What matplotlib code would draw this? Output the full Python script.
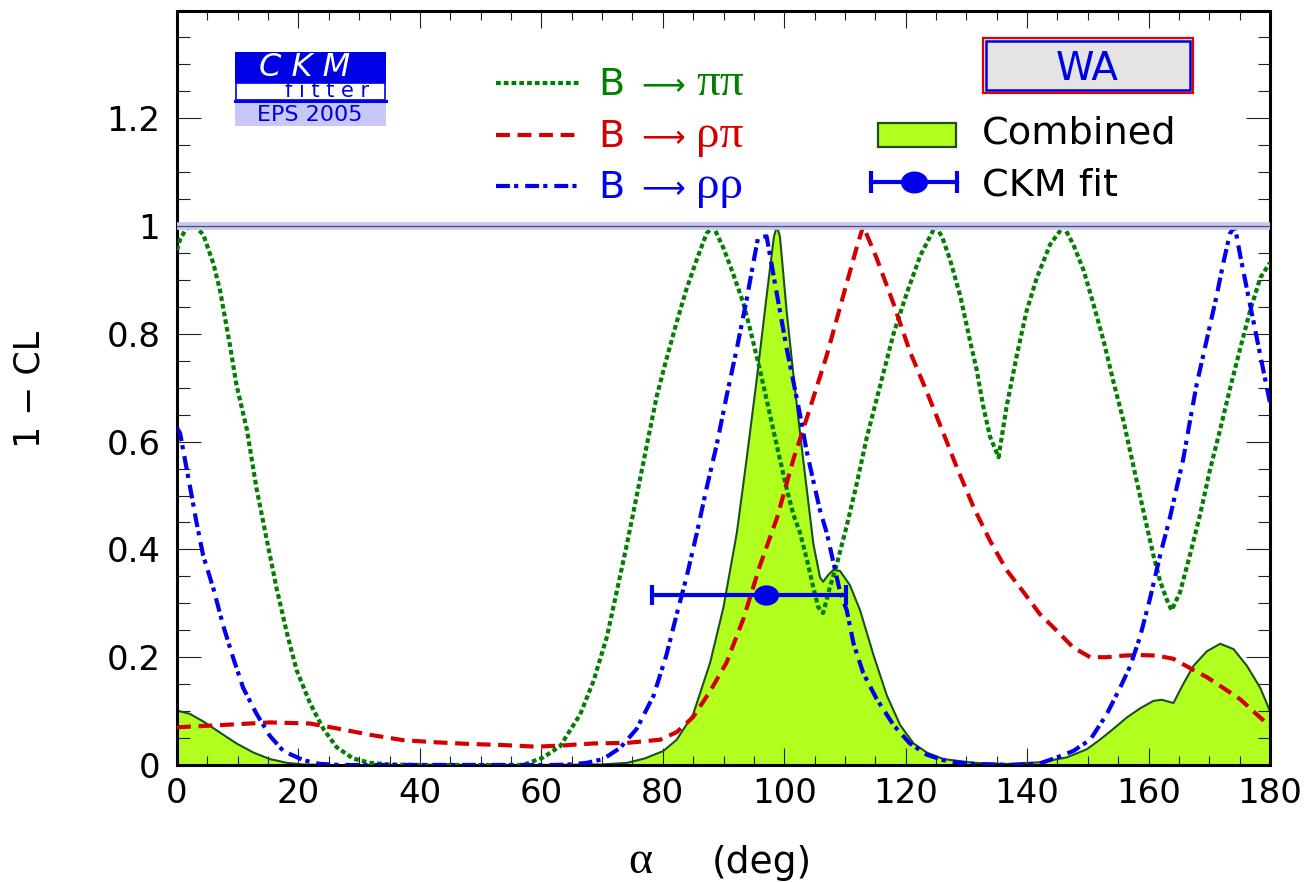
import matplotlib.pyplot as plt
from matplotlib.patches import Rectangle
from matplotlib.lines import Line2D
from matplotlib.path import Path
from matplotlib.ticker import MultipleLocator, FuncFormatter

# 1-CL scans versus alpha (deg)
pipi_alpha = [0, 0.5, 1.5, 2.8, 4.3, 6.0, 7.1, 8.7, 9.8, 11.5, 13.1, 14.8, 16.4, 18.1, 19.7,
              21.9, 24.1, 26.3, 29.0, 31.8, 35, 40, 50, 57, 60.3, 63.1, 66.4, 68.6, 70.8, 72.4,
              74.1, 75.7, 77.4, 79.0, 80.6, 82.3, 83.9, 85.6, 87.2, 88.3, 90.0, 91.6, 93.3, 94.4,
              96.0, 97.1, 98.2, 99.3, 100.4, 101.5, 102.6, 103.7, 104.8, 105.6, 106.4, 107.5,
              108.6, 110.3, 111.9, 113.6, 115.8, 118.0, 120.2, 122.4, 124.9, 126.0, 127.3, 129.0,
              130.6, 131.7, 132.8, 133.9, 135.3, 136.6, 138.3, 139.9, 141.6, 143.8, 146.0, 147.6,
              149.3, 150.9, 152.6, 154.2, 155.9, 157.5, 158.6, 159.7, 160.8, 161.9, 163.0, 163.8,
              165.2, 166.8, 168.5, 170.1, 171.8, 173.4, 175.1, 176.7, 178.4, 180]
pipi_cl = [0.955, 0.975, 0.995, 1.0, 0.985, 0.93, 0.88, 0.78, 0.705, 0.623, 0.513, 0.417, 0.328,
           0.245, 0.176, 0.115, 0.067, 0.033, 0.012, 0.004, 0.001, 0, 0, 0, 0.014, 0.035, 0.094,
           0.156, 0.238, 0.321, 0.410, 0.499, 0.595, 0.684, 0.753, 0.822, 0.883, 0.938, 0.986,
           1.0, 0.959, 0.911, 0.856, 0.808, 0.733, 0.678, 0.622, 0.567, 0.513, 0.465, 0.431,
           0.383, 0.329, 0.293, 0.282, 0.329, 0.370, 0.444, 0.520, 0.608, 0.704, 0.800, 0.876,
           0.945, 1.0, 0.98, 0.938, 0.870, 0.787, 0.733, 0.664, 0.609, 0.571, 0.664, 0.760,
           0.842, 0.904, 0.966, 1.0, 0.966, 0.918, 0.856, 0.787, 0.712, 0.637, 0.555, 0.499,
           0.444, 0.389, 0.341, 0.307, 0.287, 0.321, 0.389, 0.465, 0.547, 0.623, 0.698, 0.773,
           0.842, 0.904, 0.932]

rhopi_alpha = [0, 7.1, 15.3, 21.9, 26.3, 31.8, 37.3, 42.8, 48.3, 53.7, 59.2, 63.1, 68.6, 74.1,
               79.6, 82.3, 85.0, 87.8, 90.5, 93.3, 96.0, 98.8, 101.5, 104.3, 107.0, 109.7, 111.9,
               113.0, 115.2, 118.0, 120.7, 123.5, 126.2, 128.4, 131.2, 133.9, 136.6, 139.4, 142.1,
               144.9, 147.6, 150.4, 153.1, 155.9, 158.6, 161.4, 164.1, 166.8, 169.6, 172.3, 175.1,
               177.8, 180]
rhopi_cl = [0.070, 0.074, 0.079, 0.077, 0.068, 0.056, 0.046, 0.042, 0.039, 0.037, 0.034, 0.036,
            0.040, 0.041, 0.047, 0.061, 0.089, 0.137, 0.190, 0.272, 0.370, 0.458, 0.567, 0.664,
            0.760, 0.870, 0.959, 1.0, 0.941, 0.856, 0.767, 0.692, 0.616, 0.553, 0.478, 0.416,
            0.362, 0.321, 0.280, 0.249, 0.218, 0.200, 0.200, 0.203, 0.204, 0.203, 0.197, 0.180,
            0.163, 0.143, 0.122, 0.094, 0.072]

rhorho_alpha = [0, 0.5, 1.3, 2.1, 3.2, 4.3, 6.0, 7.6, 9.3, 10.9, 13.1, 15.3, 17.5, 20.8, 23.5,
                27, 40, 55, 62, 64.7, 67.5, 70.2, 73.0, 75.7, 78.5, 80.6, 82.3, 83.9, 85.6, 87.2,
                88.9, 90.5, 92.2, 93.8, 94.9, 95.7, 97.1, 98.2, 99.3, 100.4, 101.5, 102.6, 103.7,
                104.8, 105.9, 107.0, 108.1, 109.2, 110.3, 111.4, 113.0, 115.2, 118.0, 120.7,
                123.5, 126.2, 129.0, 133, 138, 142.1, 144.9, 147.6, 150.4, 153.1, 155.3, 157.0,
                158.6, 160.2, 161.9, 163.5, 164.6, 165.7, 166.8, 167.9, 169.0, 170.1, 171.2,
                172.3, 173.4, 174.2, 175.1, 176.2, 177.3, 178.4, 180]
rhorho_cl = [0.625, 0.616, 0.567, 0.519, 0.451, 0.389, 0.327, 0.259, 0.197, 0.143, 0.095, 0.054,
             0.026, 0.009, 0.002, 0, 0, 0, 0, 0.001, 0.004, 0.011, 0.032, 0.067, 0.129, 0.204,
             0.280, 0.348, 0.430, 0.513, 0.595, 0.684, 0.773, 0.863, 0.931, 0.979, 0.981, 0.911,
             0.842, 0.773, 0.712, 0.650, 0.582, 0.527, 0.472, 0.431, 0.376, 0.321, 0.287, 0.226,
             0.171, 0.123, 0.074, 0.040, 0.019, 0.009, 0.004, 0.001, 0, 0.003, 0.014, 0.026,
             0.047, 0.094, 0.143, 0.184, 0.238, 0.307, 0.389, 0.458, 0.513, 0.567, 0.637, 0.705,
             0.760, 0.815, 0.870, 0.931, 0.986, 1.0, 0.945, 0.883, 0.822, 0.760, 0.672]

comb_alpha = [0, 2.1, 4.3, 7.1, 9.8, 12.6, 15.3, 18.1, 20.8, 25, 40, 60, 70, 74.1, 77, 80.1,
              82.3, 85.0, 87.8, 90.0, 92.2, 93.8, 95.5, 97.1, 98.3, 98.8, 99.3, 100.4, 101.5,
              102.6, 103.7, 104.8, 105.9, 106.4, 107.2, 108.1, 109.2, 110.8, 112.5, 114.7, 116.9,
              119.1, 121.3, 123.5, 126.2, 131.2, 136.6, 142.1, 146.5, 149.8, 152.0, 154.2, 156.4,
              158.6, 160.8, 162.2, 164.1, 165.7, 167.4, 169.6, 171.8, 174.0, 176.2, 178.4, 180]
comb_cl = [0.101, 0.095, 0.081, 0.060, 0.040, 0.023, 0.011, 0.004, 0.001, 0, 0, 0, 0.001, 0.004,
           0.012, 0.026, 0.047, 0.094, 0.190, 0.293, 0.431, 0.567, 0.718, 0.870, 0.98, 1.0,
           0.98, 0.842, 0.725, 0.616, 0.513, 0.410, 0.348, 0.340, 0.352, 0.362, 0.360, 0.334,
           0.287, 0.204, 0.129, 0.074, 0.040, 0.023, 0.011, 0.004, 0.002, 0.005, 0.014, 0.029,
           0.047, 0.067, 0.088, 0.105, 0.119, 0.121, 0.115, 0.150, 0.184, 0.211, 0.225, 0.215,
           0.184, 0.143, 0.100]

# global fit: central value and interval, drawn at a fixed height
fit_alpha = 97.0
fit_lo, fit_hi = 78.2, 110.2
fit_y = 0.315

GREEN = '#007f00'
RED = '#d40000'
BLUE = '#0000ee'
FILL = '#b0ff1e'
EDGE = '#1b4f1b'
LOGO = '#0000e6'

plt.rcParams['font.family'] = ['DejaVu Sans']
plt.rcParams['lines.scale_dashes'] = False
SERIF = ['Liberation Serif', 'DejaVu Serif']

# slightly wide dot, as ROOT draws it on this canvas
_c = Path.unit_circle()
OVAL = Path(_c.vertices * [1.25, 1.0], _c.codes)

W, H = 1306, 883
fig = plt.figure(figsize=(W / 100, H / 100), dpi=100)
L, R, B, T = 177, 1270, 765, 10.5
ax = fig.add_axes([L / W, 1 - B / H, (R - L) / W, (B - T) / H])


def fx(px):
    return px / W


def fy(py):
    return 1 - py / H


def box(x0, y0, x1, y1, **kw):
    fig.add_artist(Rectangle((fx(x0), fy(y1)), (x1 - x0) / W, (y1 - y0) / H,
                             transform=fig.transFigure, **kw))


def hline(x0, x1, y, **kw):
    fig.add_artist(Line2D([fx(x0), fx(x1)], [fy(y), fy(y)], transform=fig.transFigure, **kw))


# curves
ax.fill_between(comb_alpha, comb_cl, 0, color=FILL, lw=0, zorder=1)
ax.plot(comb_alpha, comb_cl, color=EDGE, lw=1.5, zorder=2)
ax.plot(pipi_alpha, pipi_cl, color=GREEN, lw=3, dashes=(3.4, 2.2), zorder=3)
ax.plot(rhopi_alpha, rhopi_cl, color=RED, lw=3, dashes=(10, 5.5), zorder=3)
ax.plot(rhorho_alpha, rhorho_cl, color=BLUE, lw=3, dashes=(10, 3, 3, 5), zorder=3)

ax.errorbar([fit_alpha], [fit_y], xerr=[[fit_alpha - fit_lo], [fit_hi - fit_alpha]],
            fmt='none', ecolor=BLUE, elinewidth=3, capsize=7, capthick=3, zorder=4)
ax.plot([fit_alpha], [fit_y], ls='none', marker=OVAL, ms=17, color=BLUE, zorder=4)

ax.axhline(1.0, color='#c8c8f5', lw=5.5, zorder=5)
ax.axhline(1.0, color='#505068', lw=0.9, zorder=6)

ax.set_xlim(0, 180)
ax.set_ylim(0, 1.4)
ax.xaxis.set_major_locator(MultipleLocator(20))
ax.xaxis.set_minor_locator(MultipleLocator(5))
ax.yaxis.set_minor_locator(MultipleLocator(0.05))
ax.set_yticks([0, 0.2, 0.4, 0.6, 0.8, 1.0, 1.2])
ax.yaxis.set_major_formatter(FuncFormatter(lambda v, p: '%g' % round(v, 2)))
ax.tick_params(which='both', direction='in', top=True, right=True, color='#222222', width=0.8)
ax.tick_params(axis='x', which='major', length=12.5, labelsize=24.5, pad=8.5)
ax.tick_params(axis='x', which='minor', length=6.5)
ax.tick_params(axis='y', which='major', length=17, labelsize=24.5, pad=12)
ax.tick_params(axis='y', which='minor', length=9)
for s in ax.spines.values():
    s.set_linewidth(2.2)

fig.text(fx(29), fy(390), '1 \u2212 CL', rotation=90, ha='center', va='center', fontsize=25)
fig.text(fx(640), fy(873), '\u03b1', family=SERIF, ha='center', va='baseline', fontsize=33)
fig.text(fx(712), fy(873), '(deg)', ha='left', va='baseline', fontsize=27)

# channel legend
rows = [(83, GREEN, dict(dashes=(3.4, 2.2)), '\u03c0\u03c0'),
        (135, RED, dict(dashes=(10, 5.5)), '\u03c1\u03c0'),
        (186, BLUE, dict(dashes=(10, 3, 3, 5)), '\u03c1\u03c1')]
for y, c, st, final in rows:
    hline(496, 579, y, color=c, lw=3, **st)
    fig.text(fx(598), fy(y + 12), 'B', color=c, fontsize=27.5, va='baseline')
    fig.text(fx(663), fy(y + 12), '\u27f6', color=c, fontsize=22, ha='center', va='baseline')
    fig.text(fx(696), fy(y + 12), final, color=c, family=SERIF, fontsize=34, va='baseline')

# WA box
box(983, 38, 1193, 93, facecolor='#e4e4e4', edgecolor='#e00000', lw=1.6)
box(986, 41, 1190, 90, facecolor='none', edgecolor=LOGO, lw=1.8)
fig.text(fx(1087), fy(80), 'WA', color=LOGO, fontsize=28, ha='center', va='baseline')

# fill / fit legend
box(878, 123, 956, 147, facecolor=FILL, edgecolor=EDGE, lw=1.6)
fig.text(fx(982), fy(144), 'Combined', fontsize=27.5, va='baseline')
hline(871, 957, 182, color=BLUE, lw=3)
fig.add_artist(Line2D([fx(871), fx(957)], [fy(182)] * 2, transform=fig.transFigure,
                      ls='none', marker='|', ms=16, mew=3, color=BLUE))
fig.add_artist(Line2D([fx(914)], [fy(182)], transform=fig.transFigure,
                      ls='none', marker=OVAL, ms=18.5, color=BLUE))
fig.text(fx(982), fy(196), 'CKM fit', fontsize=27.5, va='baseline')

# CKMfitter logo
box(235, 52, 386, 83, facecolor=LOGO, edgecolor='none')
fig.text(fx(305), fy(76), 'C K M', color='white', style='italic', fontsize=23,
         ha='center', va='baseline')
box(236, 83, 385, 100, facecolor='white', edgecolor=LOGO, lw=1.2)
hline(235, 386, 100.5, color=LOGO, lw=2.2)
fig.text(fx(327), fy(97), 'f i t t e r', color=LOGO, fontsize=15,
         ha='center', va='baseline')
box(235, 102, 386, 126, facecolor='#c8c8f8', edgecolor='none')
fig.text(fx(310), fy(121), 'EPS 2005', color=LOGO, fontsize=16,
         ha='center', va='baseline')

fig.savefig('out.png', dpi=100)
